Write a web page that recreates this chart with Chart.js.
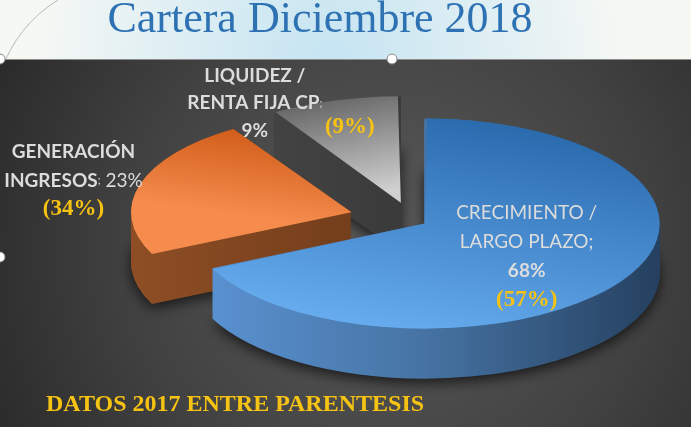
<!DOCTYPE html>
<html>
<head>
<meta charset="utf-8">
<script src="https://cdn.jsdelivr.net/npm/chart.js@4.4.1/dist/chart.umd.min.js"></script>
<style>
html, body { margin: 0; padding: 0; background: #333; }
#caixa { position: relative; width: 691px; height: 427px; }
</style>
</head>
<body>
<div id="caixa"><canvas id="pieCartera"></canvas></div>
<script>
// dados da cartera
const categorias = ['CRECIMIENTO /\nLARGO PLAZO', 'GENERACIÓN\nINGRESOS', 'LIQUIDEZ /\nRENTA FIJA CP'];
const valores2018 = [68, 23, 9];
const valores2017 = [57, 34, 9];
const titulo = 'Cartera Diciembre 2018';
const notaRodape = 'DATOS 2017 ENTRE PARENTESIS';

// estilo
const coresTopo = [['#2a6bae', '#66acef'], ['#c9520e', '#f58c4d'], ['#6a6a6a', '#d0d0d0']];
const coresLado = [['#5b94d4', '#4673a3', '#25405f'], ['#8e4e25', '#5a2e13'], ['#4a4a4a', '#2b2b2b']];
const achatar = 0.447;   // escala vertical (perspectiva)
const profundidade = 50; // altura da "fatia" em px
const branco = '#dcdcdc';
const ouro = '#f6c313';

const estiloRotulo = [
    { dx: 102, dy: -11, lh: 29, nomeNegrito: false, valorNegrito: true, sepPequeno: false, mesmaLinha: false },
    { dx: -278, dy: -60, lh: 28.5, nomeNegrito: true, valorNegrito: false, sepPequeno: true, mesmaLinha: true },
    { dx: -146, dy: -127, lh: 27.5, nomeNegrito: true, valorNegrito: true, sepPequeno: true, mesmaLinha: false, ouroDx: -51, ouroDy: -76 }
];

// geometria real da fatia desenhada (mesma conta do ArcElement.draw)
function geoFatia(arc) {
    const meio = (arc.startAngle + arc.endAngle) / 2;
    const circ = arc.endAngle - arc.startAngle;
    const off = (arc.options.offset || 0) / 4;
    const fix = 1 - Math.sin(Math.min(Math.PI, circ));
    return {
        x: arc.x + Math.cos(meio) * off,
        y: arc.y + Math.sin(meio) * off,
        r: arc.outerRadius + off * fix
    };
}

function linhaCentrada(ctx, segs, x, y) {
    let w = 0;
    segs.forEach(s => { ctx.font = s[1]; w += ctx.measureText(s[0]).width; });
    let px = x - w / 2;
    segs.forEach(s => { ctx.font = s[1]; ctx.fillText(s[0], px, y); px += ctx.measureText(s[0]).width; });
}

const fundo = {
    id: 'fundo',
    beforeDraw(chart) {
        const { ctx, width, height } = chart;
        ctx.save();
        // faixa do titulo
        ctx.fillStyle = '#f6f8f4';
        ctx.fillRect(0, 0, width, 60);
        let rg = ctx.createRadialGradient(330, 60, 0, 330, 60, 300);
        rg.addColorStop(0, 'rgba(194,227,242,0.95)');
        rg.addColorStop(1, 'rgba(194,227,242,0)');
        ctx.fillStyle = rg;
        ctx.fillRect(0, 0, width, 60);
        ctx.strokeStyle = '#b8b8b8';
        ctx.lineWidth = 1;
        ctx.beginPath();
        ctx.moveTo(0, 74);
        ctx.quadraticCurveTo(16, 26, 58, 0);
        ctx.stroke();
        // painel escuro
        rg = ctx.createRadialGradient(390, 250, 10, 390, 250, 470);
        rg.addColorStop(0, '#595959');
        rg.addColorStop(0.55, '#414141');
        rg.addColorStop(1, '#262626');
        ctx.fillStyle = rg;
        ctx.fillRect(0, 60, width, height - 60);
        ctx.strokeStyle = '#8c8c8c';
        ctx.beginPath();
        ctx.moveTo(0, 59.5);
        ctx.lineTo(width, 59.5);
        ctx.stroke();
        // titulo
        ctx.fillStyle = '#2e72b4';
        ctx.font = '44px "Liberation Serif"';
        ctx.textAlign = 'center';
        ctx.textBaseline = 'alphabetic';
        ctx.fillText(titulo, 320, 32);
        ctx.restore();
    },
    afterDraw(chart) {
        const ctx = chart.ctx;
        ctx.save();
        ctx.fillStyle = ouro;
        ctx.font = 'bold 24px "Liberation Serif"';
        ctx.textAlign = 'left';
        ctx.textBaseline = 'alphabetic';
        ctx.fillText(notaRodape, 46, 411);
        // alças de seleção
        [[0, 59], [392, 59], [0, 257]].forEach(p => {
            ctx.beginPath();
            ctx.arc(p[0], p[1], 5, 0, Math.PI * 2);
            ctx.fillStyle = '#ffffff';
            ctx.fill();
            ctx.strokeStyle = '#8a8a8a';
            ctx.stroke();
        });
        ctx.restore();
    }
};

// paredes 3D + achatamento das fatias
const paredes = {
    id: 'paredes',
    beforeDatasetsDraw(chart) {
        const ctx = chart.ctx;
        const area = chart.chartArea;
        const cx = (area.left + area.right) / 2;
        const cy = (area.top + area.bottom) / 2;
        const meta = chart.getDatasetMeta(0);
        ctx.save();
        ctx.translate(cx, cy);
        ctx.scale(1, achatar);
        ctx.translate(-cx, -cy);
        const passo = 1 / achatar;
        const desc = profundidade / achatar;
        [2, 1, 0].forEach(i => {
            const arc = meta.data[i];
            const f = geoFatia(arc);
            const g = ctx.createLinearGradient(f.x - f.r, 0, f.x + f.r, 0);
            const cl = coresLado[i];
            cl.forEach((c, j) => g.addColorStop(j / (cl.length - 1), c));
            for (let s = desc; s >= 0; s -= passo) {
                if (s === desc) {
                    ctx.shadowColor = 'rgba(0,0,0,0.7)';
                    ctx.shadowBlur = 14;
                    ctx.shadowOffsetY = 4;
                } else {
                    ctx.shadowColor = 'rgba(0,0,0,0)';
                    ctx.shadowBlur = 0;
                    ctx.shadowOffsetY = 0;
                }
                ctx.fillStyle = g;
                ctx.beginPath();
                ctx.moveTo(f.x, f.y + s);
                ctx.arc(f.x, f.y + s, f.r, arc.startAngle, arc.endAngle);
                ctx.closePath();
                ctx.fill();
            }
        });
        ctx.shadowColor = 'rgba(0,0,0,0)';
        ctx.shadowBlur = 0;
    },
    afterDatasetsDraw(chart) {
        chart.ctx.restore();
    }
};

const rotulos = {
    id: 'rotulos',
    afterDraw(chart) {
        const ctx = chart.ctx;
        const area = chart.chartArea;
        const cy = (area.top + area.bottom) / 2;
        const meta = chart.getDatasetMeta(0);
        ctx.save();
        ctx.textAlign = 'left';
        ctx.textBaseline = 'middle';
        meta.data.forEach((arc, i) => {
            const f = geoFatia(arc);
            const ax = f.x;
            const ay = cy + (f.y - cy) * achatar;
            const est = estiloRotulo[i];
            const fNome = (est.nomeNegrito ? 'bold ' : '') + '19px Lato';
            const fValor = (est.valorNegrito ? 'bold ' : '') + '19px Lato';
            const fSep = est.sepPequeno ? '11px Lato' : fNome;
            const valor = valores2018[i] + '%';
            const linhas = categorias[i].split('\n').map(l => [[l, fNome]]);
            const ult = linhas[linhas.length - 1];
            ult.push([';', fSep]);
            if (est.mesmaLinha) ult.push([' ' + valor, fValor]);
            else linhas.push([[valor, fValor]]);
            const x0 = ax + est.dx;
            const y0 = ay + est.dy;
            ctx.fillStyle = branco;
            linhas.forEach((segs, j) => linhaCentrada(ctx, segs, x0, y0 + j * est.lh));
            // dado 2017
            ctx.fillStyle = ouro;
            const txt = '(' + valores2017[i] + '%)';
            if (est.ouroDx !== undefined) {
                linhaCentrada(ctx, [[txt, 'bold 23px "Liberation Serif"']], ax + est.ouroDx, ay + est.ouroDy);
            } else {
                linhaCentrada(ctx, [[txt, 'bold 23px "Liberation Serif"']], x0, y0 + linhas.length * est.lh);
            }
        });
        ctx.restore();
    }
};

const dadosCartera = {
    labels: categorias.map(c => c.replace('\n', ' ')),
    datasets: [{
        data: valores2018,
        backgroundColor: function (context) {
            const chart = context.chart;
            const area = chart.chartArea;
            const i = context.dataIndex;
            if (!area || i === undefined) return coresTopo[0][0];
            const cx = (area.left + area.right) / 2;
            const cy = (area.top + area.bottom) / 2;
            const r = chart.options.radius;
            let g;
            if (i === 0) g = chart.ctx.createLinearGradient(cx + r * 0.4, cy - r, cx - r * 0.4, cy + r);
            else if (i === 1) g = chart.ctx.createLinearGradient(cx, cy - r * 0.9, cx - r * 0.3, cy + r * 0.1);
            else g = chart.ctx.createLinearGradient(cx - r * 0.4, cy - r, cx, cy - r * 0.15);
            g.addColorStop(0, coresTopo[i][0]);
            g.addColorStop(1, coresTopo[i][1]);
            return g;
        },
        borderWidth: 0,
        offset: [60, 252, 160],
        clip: false
    }]
};

const configCartera = {
    type: 'pie',
    data: dadosCartera,
    options: {
        responsive: true,
        maintainAspectRatio: false,
        animation: false,
        events: [],
        radius: 220,
        layout: { padding: { left: 133, right: 0, top: 13, bottom: 0 } },
        plugins: {
            legend: { display: false },
            tooltip: { enabled: false },
            title: { display: false }
        }
    },
    plugins: [fundo, paredes, rotulos]
};

new Chart(document.getElementById('pieCartera').getContext('2d'), configCartera);
</script>
</body>
</html>
